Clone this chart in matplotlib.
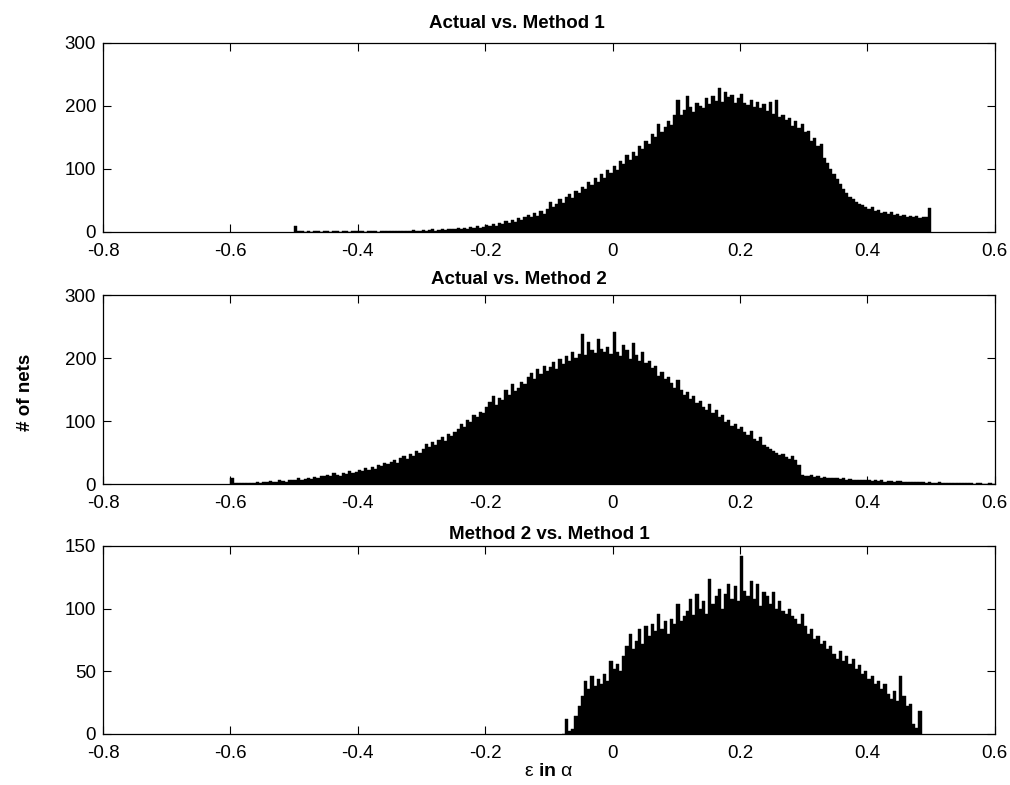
import numpy as np
import matplotlib
matplotlib.use("Agg")
import matplotlib.pyplot as plt
from matplotlib.ticker import FuncFormatter

plt.rcParams['font.family'] = ['Liberation Sans', 'DejaVu Sans']
plt.rcParams['axes.unicode_minus'] = False
plt.rcParams['mathtext.fontset'] = 'custom'
plt.rcParams['mathtext.rm'] = 'Liberation Sans'
plt.rcParams['mathtext.bf'] = 'Liberation Sans:bold'

BIN_W = 0.005

# Actual vs. Method 1 : bins start at -0.500
m1_start = -0.500
m1_counts = [
    10, 2, 1, 0, 1, 0, 1, 1, 0, 1,
    1, 0, 1, 1, 0, 1, 1, 0, 1, 1,
    1, 1, 0, 1, 1, 1, 0, 1, 1, 1,
    2, 1, 2, 1, 2, 2, 1, 3, 2, 2,
    3, 2, 3, 4, 2, 3, 4, 3, 5, 4,
    4, 6, 5, 7, 5, 8, 6, 9, 7, 8,
    11, 9, 13, 10, 15, 12, 17, 14, 19, 16,
    22, 19, 24, 27, 23, 30, 26, 33, 29, 36,
    47, 40, 44, 52, 46, 55, 60, 54, 65, 62,
    72, 68, 80, 75, 86, 79, 92, 85, 98, 94,
    104, 99, 112, 108, 122, 115, 127, 121, 136, 131,
    145, 139, 155, 150, 172, 158, 166, 176, 170, 185,
    210, 186, 193, 216, 198, 191, 205, 200, 196, 212,
    203, 215, 208, 228, 206, 222, 214, 218, 205, 213,
    219, 205, 201, 210, 198, 207, 196, 203, 192, 207,
    188, 210, 183, 186, 177, 181, 168, 176, 165, 171,
    158, 160, 145, 149, 136, 140, 118, 110, 100, 92,
    84, 76, 68, 62, 56, 52, 47, 44, 43, 39,
    36, 39, 33, 35, 30, 32, 29, 31, 27, 29,
    25, 27, 24, 26, 23, 25, 22, 24, 23, 38,
]

# Actual vs. Method 2 : bins start at -0.600
m2_start = -0.600
m2_counts = [
    10, 1, 1, 2, 1, 2, 2, 1, 3, 2,
    4, 3, 5, 4, 3, 6, 5, 4, 6, 7,
    7, 9, 6, 8, 10, 8, 11, 9, 13, 12,
    14, 12, 17, 15, 13, 18, 16, 20, 17, 19,
    22, 20, 25, 23, 27, 24, 30, 28, 33, 31,
    35, 38, 33, 41, 45, 40, 48, 44, 52, 50,
    55, 63, 58, 67, 62, 70, 74, 68, 80, 77,
    82, 88, 95, 90, 102, 98, 110, 106, 115, 112,
    122, 130, 140, 126, 137, 133, 150, 142, 158, 148,
    153, 162, 158, 170, 176, 166, 182, 174, 188, 180,
    186, 194, 182, 199, 190, 203, 196, 210, 200, 206,
    238, 205, 226, 212, 208, 230, 214, 210, 218, 206,
    242, 210, 203, 220, 212, 198, 224, 205, 196, 210,
    192, 196, 184, 188, 172, 178, 166, 170, 160, 152,
    165, 150, 142, 146, 135, 140, 128, 132, 122, 118,
    127, 112, 118, 106, 110, 98, 102, 92, 95, 88,
    90, 82, 78, 84, 72, 68, 74, 62, 58, 55,
    53, 50, 46, 48, 43, 40, 45, 38, 30, 14,
    13, 12, 14, 11, 12, 10, 11, 9, 10, 9,
    9, 8, 9, 7, 8, 7, 6, 7, 6, 7,
    6, 5, 6, 5, 6, 4, 5, 5, 4, 5,
    5, 4, 4, 3, 4, 3, 3, 4, 2, 3,
    2, 2, 3, 2, 1, 2, 2, 1, 2, 1,
    1, 1, 1, 0, 1, 1, 0, 0, 1, 0,
]

# Method 2 vs. Method 1 : bins start at -0.080
m21_start = -0.080
m21_counts = [
    0, 12, 2, 4, 14, 22, 30, 42, 36, 46,
    38, 44, 40, 48, 42, 58, 52, 56, 50, 62,
    70, 80, 68, 74, 84, 72, 86, 78, 88, 82,
    96, 84, 90, 80, 92, 88, 104, 90, 94, 98,
    108, 95, 112, 100, 106, 96, 124, 104, 110, 116,
    100, 112, 120, 108, 118, 106, 142, 114, 110, 122,
    108, 120, 102, 113, 110, 104, 113, 100, 106, 98,
    96, 100, 94, 92, 88, 96, 86, 80, 84, 76,
    78, 72, 74, 68, 70, 64, 60, 66, 58, 62,
    56, 60, 52, 55, 48, 50, 44, 46, 40, 42,
    36, 40, 32, 28, 34, 26, 46, 30, 22, 24,
    8, 5, 18,
]

titles = ['Actual vs. Method 1', 'Actual vs. Method 2', 'Method 2 vs. Method 1']
y_limits = [300, 300, 150]
y_steps = [100, 100, 50]
x_ticks = [-0.8, -0.6, -0.4, -0.2, 0, 0.2, 0.4, 0.6]

fig = plt.figure(figsize=(10.1, 7.85), dpi=100)
boxes = [[0.102, 0.7045, 0.883, 0.2408],
         [0.102, 0.3834, 0.883, 0.2408],
         [0.102, 0.0650, 0.883, 0.2395]]
pads = [11, 8, 5]
title_x = [0.464, 0.466, 0.5]

series = [(m1_start, m1_counts), (m2_start, m2_counts), (m21_start, m21_counts)]
fmt = FuncFormatter(lambda v, p: f'{round(v, 2):g}')

for i, (start, counts) in enumerate(series):
    ax = fig.add_axes(boxes[i])
    counts = np.array(counts, dtype=float)
    left = start + BIN_W * np.arange(len(counts))
    ax.bar(left, counts, width=BIN_W, align='edge', color='black',
           edgecolor='black', linewidth=0.3)
    ax.set_xlim(-0.8, 0.6)
    ax.set_ylim(0, y_limits[i])
    ax.set_xticks(x_ticks)
    ax.set_yticks(np.arange(0, y_limits[i] + 1, y_steps[i]))
    ax.xaxis.set_major_formatter(fmt)
    ax.tick_params(direction='in', top=True, right=True, length=6,
                   width=0.8, labelsize=13.5)
    ax.tick_params(axis='x', pad=8)
    ax.tick_params(axis='y', pad=5)
    for s in ax.spines.values():
        s.set_linewidth(0.9)
    ax.set_title(titles[i], fontsize=13.5, fontweight='bold', pad=pads[i],
                 x=title_x[i])
    if i == 2:
        ax.set_xlabel(r'$\mathrm{ε}$ $\mathbf{in}$ $\mathrm{α}$', fontsize=14,
                      labelpad=1)

fig.text(0.025, 0.5, '# of nets', rotation=90, ha='center', va='center',
         fontsize=13.5, fontweight='bold')

fig.savefig('out.png', dpi=100)
